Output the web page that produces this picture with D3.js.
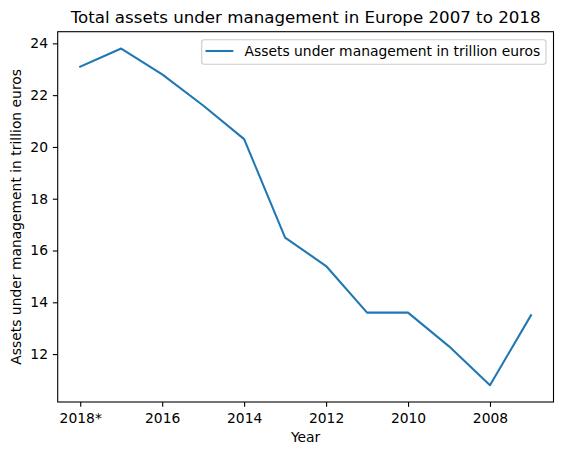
<!DOCTYPE html>
<html><head><meta charset="utf-8">
<script src="https://cdn.jsdelivr.net/npm/d3@7"></script>
<style>
html,body{margin:0;padding:0;background:#fff;}
svg text{font-family:"DejaVu Sans",sans-serif;fill:#000;}
</style></head>
<body>
<svg id="c" width="563" height="455"></svg>
<script>
const years = ["2018*","2017","2016","2015","2014","2013","2012","2011","2010","2009","2008","2007"];
const assets = [23.1,23.8,22.8,21.6,20.3,16.5,15.4,13.6,13.6,12.3,10.8,13.5];
const xTickLabels = ["2018*","2016","2014","2012","2010","2008"];
const yTicks = [12,14,16,18,20,22,24];
const title = "Total assets under management in Europe 2007 to 2018";
const xTitle = "Year";
const yTitle = "Assets under management in trillion euros";
const seriesName = "Assets under management in trillion euros";

const L = 57.7, R = 553.5, T = 31.7, B = 402;
const svg = d3.select("#c");

const x = d3.scalePoint().domain(years).range([L, R]).padding(0.55);
const [mn, mx] = d3.extent(assets);
const m = (mx - mn) * 0.05;
const y = d3.scaleLinear().domain([mn - m, mx + m]).range([B, T]);

const fs = 13.89;
// x axis
const xAxis = d3.axisBottom(x).tickValues(xTickLabels).tickSize(4.86).tickPadding(4.86);
const gx = svg.append("g").attr("transform", `translate(0,${B})`).call(xAxis);
gx.select(".domain").remove();
gx.selectAll(".tick line").attr("stroke", "#000").attr("stroke-width", 1.1);
gx.selectAll(".tick text").attr("font-size", fs).attr("dy", null).attr("y", 20.7);

const yAxis = d3.axisLeft(y).tickValues(yTicks).tickSize(4.86).tickPadding(4.86);
const gy = svg.append("g").attr("transform", `translate(${L},0)`).call(yAxis);
gy.select(".domain").remove();
gy.selectAll(".tick line").attr("stroke", "#000").attr("stroke-width", 1.1);
gy.selectAll(".tick text").attr("font-size", fs);

// line
const line = d3.line().x((d, i) => x(years[i])).y(d => y(d));
svg.append("path").datum(assets).attr("d", line)
  .attr("fill", "none").attr("stroke", "#1f77b4").attr("stroke-width", 2.08)
  .attr("stroke-linejoin", "round").attr("stroke-linecap", "square");

// frame
svg.append("rect").attr("x", L).attr("y", T).attr("width", R - L).attr("height", B - T)
  .attr("fill", "none").attr("stroke", "#000").attr("stroke-width", 1.1);

// title
svg.append("text").attr("x", (L + R) / 2).attr("y", 23.4).attr("text-anchor", "middle")
  .attr("font-size", 16.67).text(title);
svg.append("text").attr("x", (L + R) / 2).attr("y", 442).attr("text-anchor", "middle")
  .attr("font-size", fs).text(xTitle);
svg.append("text").attr("transform", `translate(21,${(T + B) / 2}) rotate(-90)`)
  .attr("text-anchor", "middle").attr("font-size", fs).text(yTitle);

// legend
const lg = svg.append("g");
lg.append("rect").attr("x", 201.7).attr("y", 39.7).attr("width", 344.3).attr("height", 24.5)
  .attr("rx", 2.5).attr("fill", "#fff").attr("fill-opacity", 0.8)
  .attr("stroke", "#cccccc").attr("stroke-width", 1.1);
lg.append("line").attr("x1", 205.5).attr("x2", 233.3).attr("y1", 51).attr("y2", 51)
  .attr("stroke", "#1f77b4").attr("stroke-width", 2.08);
lg.append("text").attr("x", 244.5).attr("y", 56).attr("font-size", fs).text(seriesName);
</script>
</body></html>
